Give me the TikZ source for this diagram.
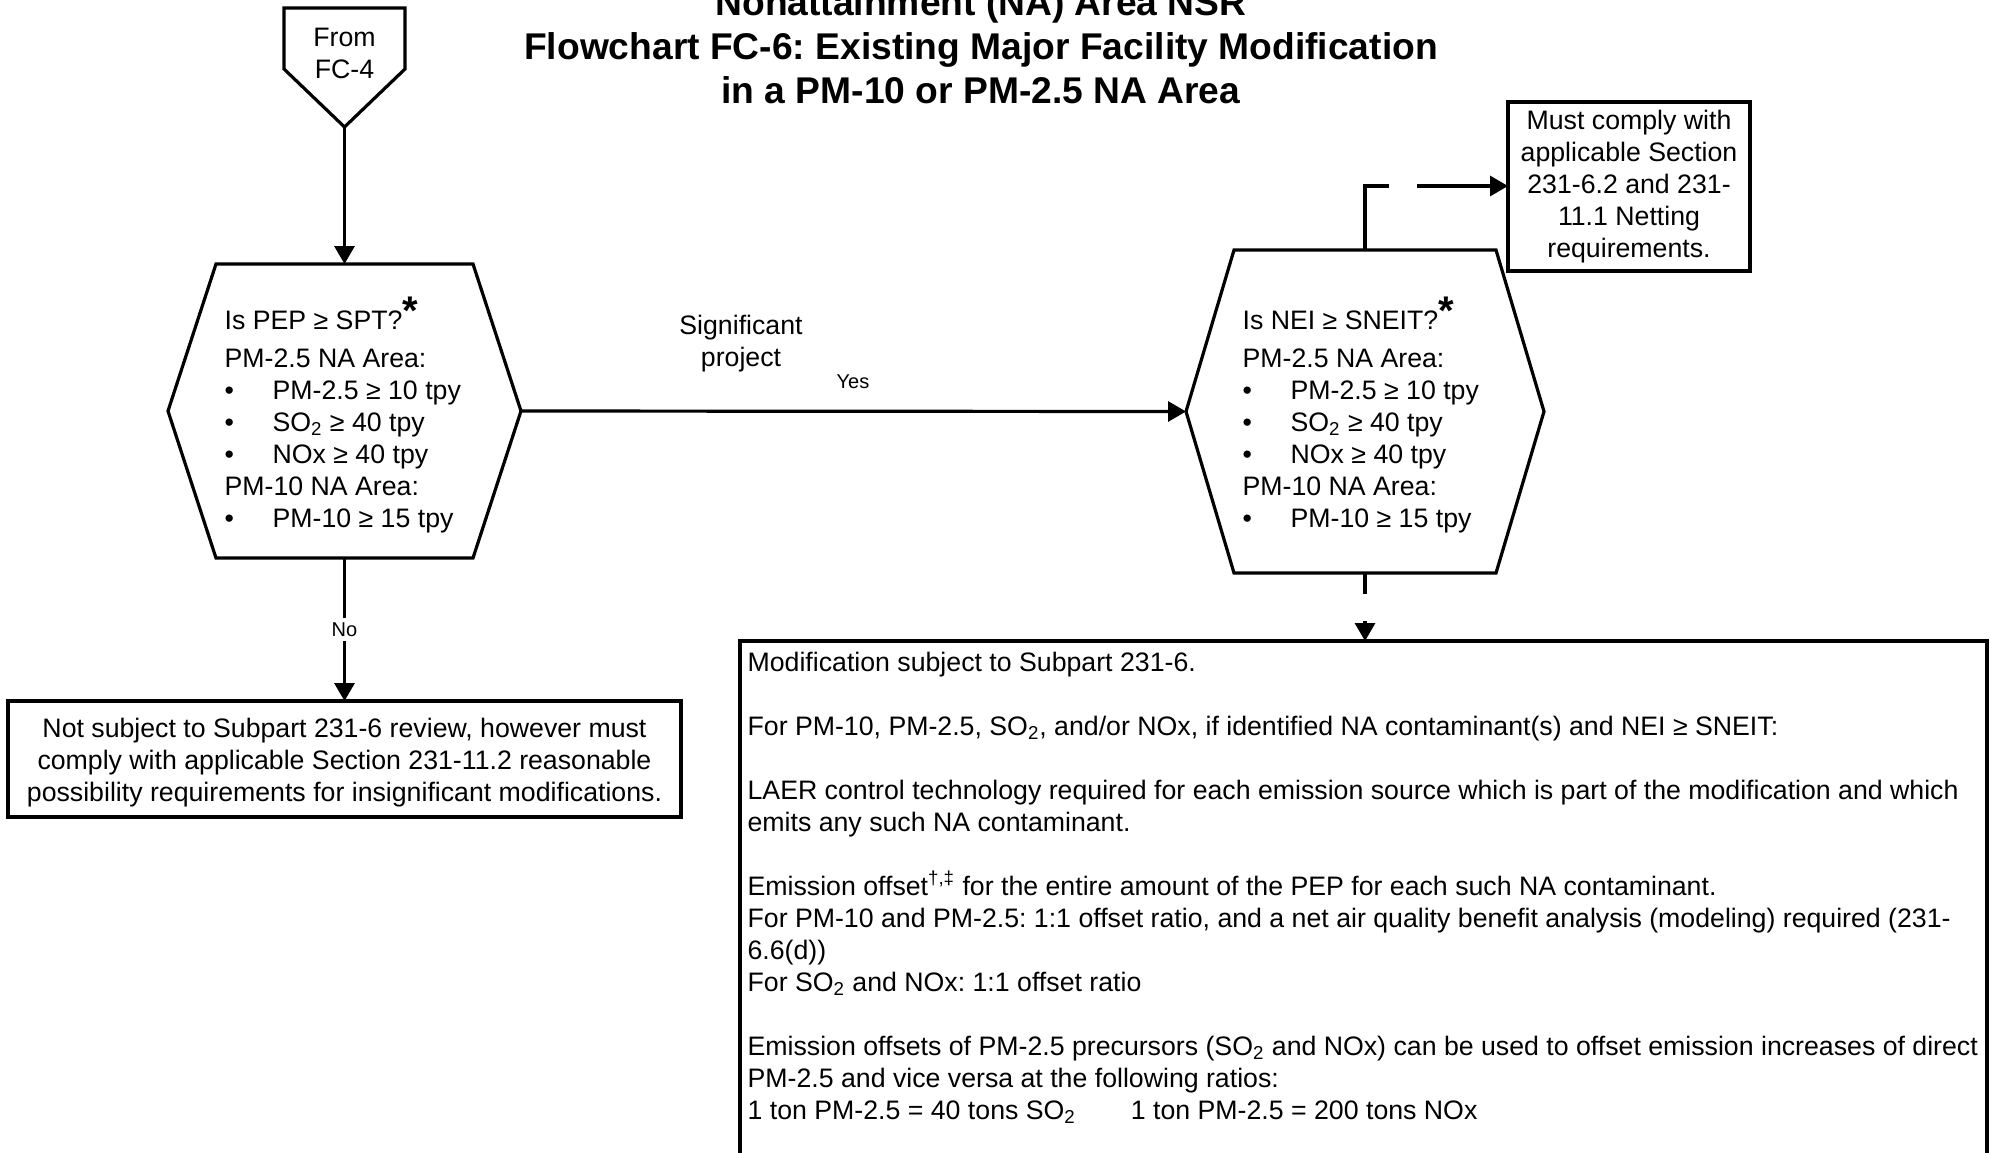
\documentclass[tikz,border=0pt]{standalone}
\usepackage{fontspec}
\setmainfont{Liberation Sans}
\frenchspacing
\usetikzlibrary{arrows.meta}
% bullet with a fixed indent for the threshold lists
\newcommand\itembul{\makebox[24pt][l]{\textbullet}}
% large raised asterisk after the questions
\newcommand\bigstar{\raisebox{2.5pt}{\fontsize{20pt}{20pt}\selectfont\bfseries *}}
\begin{document}
\begin{tikzpicture}[x=0.5pt,y=-0.5pt,
  line width=1.6pt,
  flow/.style={-{Triangle[length=9pt,width=10pt]}},
  body/.style={font=\fontsize{13.35pt}{16pt}\selectfont, inner sep=0pt},
  small/.style={font=\fontsize{10pt}{12pt}\selectfont},
  frame/.style={draw, inner sep=0pt, outer sep=0pt},
  ghost/.style={inner sep=0pt, outer sep=0pt},
  heading/.style={font=\fontsize{18.6pt}{22pt}\selectfont\bfseries, inner sep=0pt, align=center},
]
\useasboundingbox (0,0) rectangle (1990,1152);
\clip (0,0) rectangle (1990,1152);
\fill[white] (0,0) rectangle (1990,1152);

% title (multi-line nodes are placed by the baseline of their last line)
\node (title) [heading, anchor=base] at (981,103)
  {Nonattainment (NA) Area NSR\\
   Flowchart FC-6: Existing Major Facility Modification\\
   in a PM-10 or PM-2.5 NA Area};

% off-page connector
\node (from) [ghost, minimum width=60.5pt, minimum height=59.5pt] at (344.5,67.5) {};
\draw (from.north west) -- (from.north east) -- ([yshift=-30.5pt]from.north east)
  -- (from.south) -- ([yshift=-30.5pt]from.north west) -- cycle;
\node (fromtext) [body, align=center, anchor=base] at (344.5,78) {From\\FC-4};

% first decision
\node (hexA) [ghost, minimum width=176.5pt, minimum height=147pt] at (344.5,411) {};
\draw ([xshift=24pt]hexA.north west) -- ([xshift=-24pt]hexA.north east) -- (hexA.east)
  -- ([xshift=-24pt]hexA.south east) -- ([xshift=24pt]hexA.south west) -- (hexA.west) -- cycle;
\node (hexAtext) [body, align=left, anchor=base west] at (223,527)
  {Is PEP ≥ SPT?\bigstar\\[3pt]
   PM-2.5 NA Area:\\
   \itembul PM-2.5 ≥ 10 tpy\\
   \itembul SO\textsubscript{2} ≥ 40 tpy\\
   \itembul NOx ≥ 40 tpy\\
   PM-10 NA Area:\\
   \itembul PM-10 ≥ 15 tpy};

% second decision
\node (hexB) [ghost, minimum width=179pt, minimum height=161.5pt] at (1365,411.5) {};
\draw ([xshift=24pt]hexB.north west) -- ([xshift=-24pt]hexB.north east) -- (hexB.east)
  -- ([xshift=-24pt]hexB.south east) -- ([xshift=24pt]hexB.south west) -- (hexB.west) -- cycle;
\node (hexBtext) [body, align=left, anchor=base west] at (1241,527)
  {Is NEI ≥ SNEIT?\bigstar\\[3pt]
   PM-2.5 NA Area:\\
   \itembul PM-2.5 ≥ 10 tpy\\
   \itembul SO\textsubscript{2} ≥ 40 tpy\\
   \itembul NOx ≥ 40 tpy\\
   PM-10 NA Area:\\
   \itembul PM-10 ≥ 15 tpy};

% outcome boxes
\node (netting) [frame, minimum width=121pt, minimum height=84.5pt] at (1629,186.5) {};
\node (nettingtext) [body, align=center, anchor=base] at (1629,257)
  {Must comply with\\applicable Section\\231-6.2 and 231-\\11.1 Netting\\requirements.};

\node (notsubj) [frame, minimum width=336.5pt, minimum height=58pt] at (344.5,759) {};
\node (notsubjtext) [body, align=center, anchor=base] at (344.5,801)
  {Not subject to Subpart 231-6 review, however must\\
   comply with applicable Section 231-11.2 reasonable\\
   possibility requirements for insignificant modifications.};

\node (subj) [frame, minimum width=623.5pt, minimum height=340pt] at (1363.5,981) {};
\node (subjtext) [body, align=left, anchor=base west] at (746,1119)
  {Modification subject to Subpart 231-6.\\[16pt]
   For PM-10, PM-2.5, SO\textsubscript{2}, and/or NOx, if identified NA contaminant(s) and NEI ≥ SNEIT:\\[16pt]
   LAER control technology required for each emission source which is part of the modification and which\\
   emits any such NA contaminant.\\[16pt]
   Emission offset\textsuperscript{†,‡} for the entire amount of the PEP for each such NA contaminant.\\
   For PM-10 and PM-2.5: 1:1 offset ratio, and a net air quality benefit analysis (modeling) required (231-\\
   6.6(d))\\
   For SO\textsubscript{2} and NOx: 1:1 offset ratio\\[16pt]
   Emission offsets of PM-2.5 precursors (SO\textsubscript{2} and NOx) can be used to offset emission increases of direct\\
   PM-2.5 and vice versa at the following ratios:\\
   1 ton PM-2.5 = 40 tons SO\textsubscript{2}\hspace*{27.5pt}1 ton PM-2.5 = 200 tons NOx};

% connectors
\draw[flow] (from.south) -- (hexA.north);
\draw[flow] (hexA.south) -- node[small, fill=white, inner sep=2.5pt] (nolabel) {No} (notsubj.north -| hexA.south);
\draw[flow] (hexA.east) -- (hexB.west);
\node (sig) [body, align=center, anchor=base] at (741,366) {Significant\\project};
\node (yes) [small, inner sep=0pt, anchor=base] at (853,388) {Yes};

\coordinate (upA) at (1389,186);
\coordinate (upB) at (1417,186);
\draw (hexB.north) |- (upA);
\draw[flow] (upB) -- (netting.west |- upB);

\coordinate (downA) at (1365,594);
\coordinate (downB) at (1365,621);
\draw (hexB.south) -- (downA);
\draw[flow] (downB) -- (downB |- subj.north);
\end{tikzpicture}
\end{document}
